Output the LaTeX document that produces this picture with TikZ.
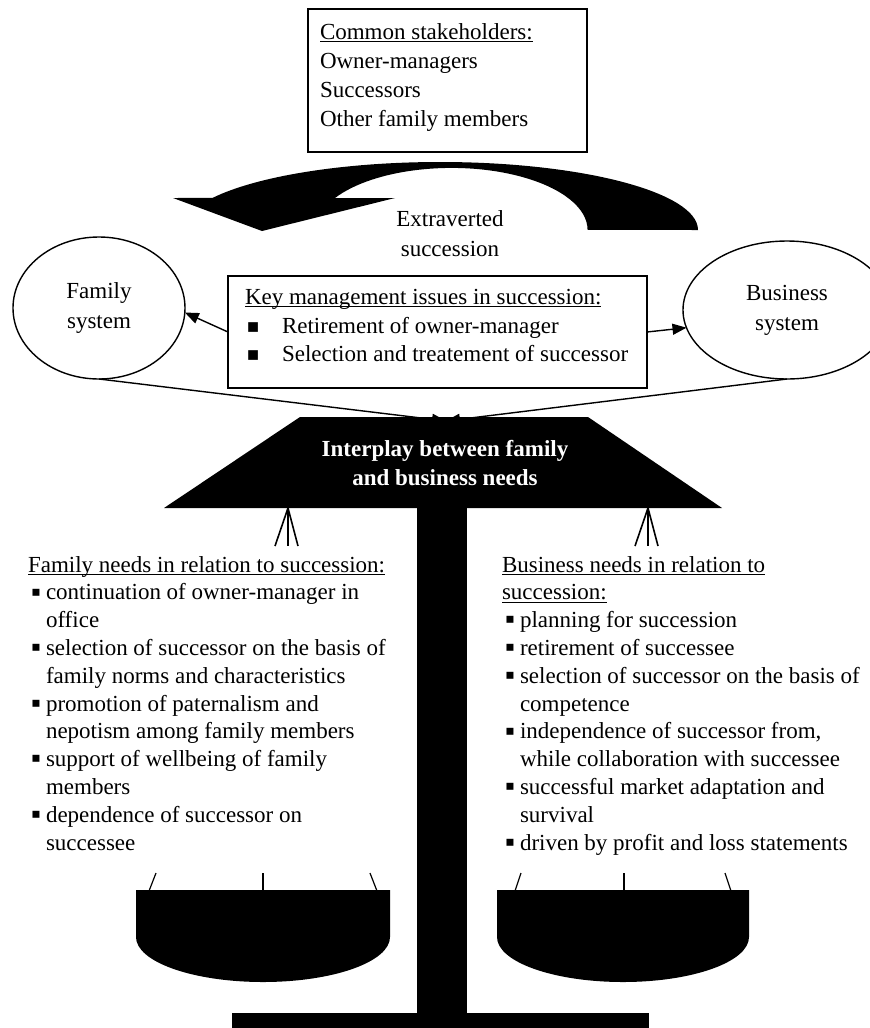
\documentclass[tikz,border=0pt]{standalone}
\usepackage{fontspec}
\setmainfont{Liberation Serif}
\usetikzlibrary{shapes.geometric,arrows.meta}
% underline with a fixed offset below the baseline
\newcommand{\ulinetext}[1]{\setbox0\hbox{#1}\rlap{\rule[-3.4pt]{\wd0}{1pt}}\box0}
% square bullets followed by their text indent
\newcommand{\sqb}{\makebox[15pt][l]{\smash{\raisebox{-1.2pt}{\fontsize{28}{28}\selectfont ▪}}}}
\newcommand{\sqbwide}{\makebox[35pt][l]{\raisebox{-0.9pt}{\fontsize{20}{20}\selectfont ■}}}
\begin{document}
\begin{tikzpicture}[x=1pt,y=-1pt,
  every node/.style={inner sep=0pt, outer sep=0pt},
  txt/.style={font=\fontsize{23}{28}\selectfont, anchor=base west},
  mid/.style={font=\fontsize{23}{28}\selectfont, anchor=base},
  boxframe/.style={draw, line width=1.4pt},
  sys/.style={draw, ellipse, line width=1.4pt, align=center, font=\fontsize{23}{30}\selectfont},
  link/.style={line width=1.4pt, -{Triangle[length=14pt,width=11pt]}},
  string/.style={line width=1.2pt},
  prong/.style={line width=1.6pt},
]
\useasboundingbox (0,0) rectangle (870,1028);
\clip (0,0) rectangle (870,1028);

% stakeholder box
\node[boxframe, minimum width=279pt, minimum height=143pt] (stake) at (447.5,80.5) {};
\node[txt] (s1) at (320,39) {\ulinetext{Common stakeholders:}};
\node[txt] (s2) at (320,68) {Owner-managers};
\node[txt] (s3) at (320,97) {Successors};
\node[txt] (s4) at (320,126) {Other family members};

% curved block arrow
\fill (698,230) arc[start angle=0, end angle=-151.9, x radius=258, y radius=68]
  -- (173,198) -- (262,231) -- (395,198) -- (335,198)
  arc[start angle=-149, end angle=0, x radius=136, y radius=62] -- cycle;
\node[mid] (ex1) at (450,226) {Extraverted};
\node[mid] (ex2) at (450,256) {succession};

% the two systems
\node[sys, minimum width=172pt, minimum height=142pt] (fam) at (99,308) {Family\\system};
\node[sys, minimum width=208pt, minimum height=138pt] (bus) at (787,310) {Business\\system};

% key issues box
\node[boxframe, minimum width=419pt, minimum height=112pt] (key) at (437.5,332) {};
\node[txt] (k0) at (245,304) {\ulinetext{Key management issues in succession:}};
\node[txt] (k1) at (247,333) {\sqbwide Retirement of owner-manager};
\node[txt] (k2) at (247,361) {\sqbwide Selection and treatement of successor};

\draw[link] (key.west) -- (fam.-3);
\draw[link] (key.east) -- (bus.190);

% balance beam
\fill (300,417) -- (588,417) -- (722,508) -- (164,508) -- cycle;
\coordinate (pivot) at (446,421);
\draw[link] (fam.south) -- (pivot);
\draw[link] (bus.south) -- (pivot);
\node[mid, font=\fontsize{23}{28}\selectfont\bfseries, text=white] (t1) at (445,456) {Interplay between family};
\node[mid, font=\fontsize{23}{28}\selectfont\bfseries, text=white] (t2) at (445,485) {and business needs};

% pole and foot
\fill (417,505) rectangle (467,1015);
\fill (232,1013) rectangle (649,1030);

% hangers under the beam
\coordinate (lp) at (288,508);
\draw[prong] (275,546) -- (lp) -- (298,546);
\draw[prong] (lp) -- (288,546);
\coordinate (rp) at (648,508);
\draw[prong] (635,546) -- (rp) -- (658,546);
\draw[prong] (rp) -- (648,546);

% family needs
\node[txt] (f1) at (28,572) {\ulinetext{Family needs in relation to succession:}};
\node[txt] (f2) at (31,599.8) {\sqb continuation of owner-manager in};
\node[txt] (f3) at (46,627.6) {office};
\node[txt] (f4) at (31,655.4) {\sqb selection of successor on the basis of};
\node[txt] (f5) at (46,683.2) {family norms and characteristics};
\node[txt] (f6) at (31,711) {\sqb promotion of paternalism and};
\node[txt] (f7) at (46,738.8) {nepotism among family members};
\node[txt] (f8) at (31,766.6) {\sqb support of wellbeing of family};
\node[txt] (f9) at (46,794.4) {members};
\node[txt] (f10) at (31,822.2) {\sqb dependence of successor on};
\node[txt] (f11) at (46,850) {successee};

% business needs
\node[txt] (b1) at (502,572) {\ulinetext{Business needs in relation to}};
\node[txt] (b2) at (502,599.8) {\ulinetext{succession:}};
\node[txt] (b3) at (505,627.6) {\sqb planning for succession};
\node[txt] (b4) at (505,655.4) {\sqb retirement of successee};
\node[txt] (b5) at (505,683.2) {\sqb selection of successor on the basis of};
\node[txt] (b6) at (520,711) {competence};
\node[txt] (b7) at (505,738.8) {\sqb independence of successor from,};
\node[txt] (b8) at (520,766.6) {while collaboration with successee};
\node[txt] (b9) at (505,794.4) {\sqb successful market adaptation and};
\node[txt] (b10) at (520,822.2) {survival};
\node[txt] (b11) at (505,850) {\sqb driven by profit and loss statements};

% scale pans with their strings
\fill (136,890) -- (390,890) -- (390,937)
  arc[start angle=0, end angle=180, x radius=127, y radius=45] -- cycle;
\fill (497,890) -- (749,890) -- (749,937)
  arc[start angle=0, end angle=180, x radius=126, y radius=45] -- cycle;
\draw[string] (149,891) -- (156,873);
\draw[string] (263,891) -- (263,873);
\draw[string] (377,891) -- (370,873);
\draw[string] (515,891) -- (521,873);
\draw[string] (624,891) -- (624,873);
\draw[string] (731,891) -- (725,873);
\end{tikzpicture}
\end{document}
